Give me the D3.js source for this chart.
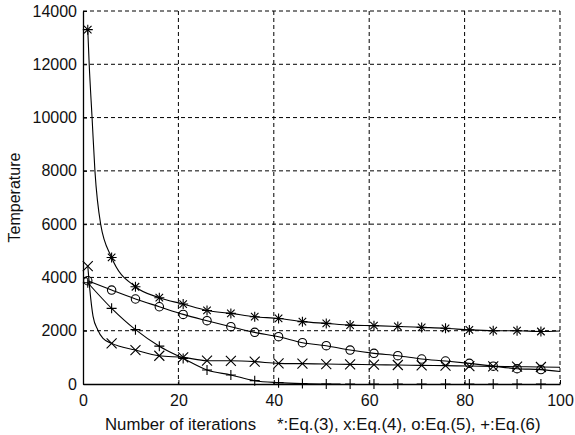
<!DOCTYPE html>
<meta charset="utf-8">
<script src="https://d3js.org/d3.v7.min.js"></script>
<style type="text/css">
body { margin: 0; background: #fff; }
svg { display: block; font-family: "Liberation Sans", Arial, sans-serif; }
.grid line { stroke: #000; stroke-width: 1px; stroke-dasharray: 4px 3px; }
.tickLabel { font-size: 16px; fill: #111; }
.axisLabel { font-size: 16px; fill: #111; }
.xLabel { font-size: 16.8px; fill: #111; }
.curve { fill: none; stroke: #000; stroke-width: 1.1px; }
.marker { fill: none; stroke: #000; stroke-width: 1.1px; }
</style>
<body></body>
<script>

// markers every 5 iterations
var markerIters = [1, 6, 11, 16, 21, 26, 31, 36, 41, 46, 51, 56, 61, 66, 71, 76, 81, 86, 91, 96];

var eq3Temps = [13300, 4750, 3650, 3240, 3000, 2760, 2650, 2525, 2460, 2340, 2275, 2210, 2190, 2160, 2125, 2090, 2030, 2000, 2000, 1970];
var eq4Temps = [4425, 1525, 1275, 1060, 1000, 875, 870, 838, 775, 763, 750, 738, 725, 713, 700, 688, 675, 663, 650, 638];
var eq5Temps = [3875, 3525, 3190, 2900, 2613, 2375, 2150, 1938, 1775, 1550, 1438, 1275, 1150, 1063, 938, 863, 775, 670, 575, 540];
var eq6Temps = [3800, 2840, 2040, 1420, 960, 525, 338, 125, 50, 15, 0, 0, 0, 0, 0, 0, 0, 0, 0, 0];

// extra points
var eq3Extra = [[1.3, 12000], [1.9, 10000], [2.5, 8000], [3.7, 6000], [100, 1990]];
var eq4Extra = [[1.4, 3600], [2.1, 2550], [3.1, 2030], [4.2, 1710], [100, 625]];
var eq5Extra = [[100, 470]];
var eq6Extra = [[54, 0]];

var xTicks = [0, 20, 40, 60, 80, 100];
var yTicks = [0, 2000, 4000, 6000, 8000, 10000, 12000, 14000];

var margin = {top: 11, right: 15, bottom: 51, left: 83};
var width = 575 - margin.left - margin.right,
    height = 435 - margin.top - margin.bottom;

var svg = d3.select("body").append("svg")
    .attr("width", 575)
    .attr("height", 435)
    .append("g")
    .attr("transform", "translate(" + margin.left + "," + margin.top + ")");

var xScale = d3.scaleLinear().domain([0, 100]).range([0, width]);
var yScale = d3.scaleLinear().domain([0, 14000]).range([height, 0]);

// dashed grid
var grid = svg.append("g").attr("class", "grid");
grid.selectAll(".hgrid")
    .data(yTicks.filter(function(d) { return d > 0; }))
    .enter().append("line")
    .attr("x1", 0).attr("x2", width)
    .attr("y1", function(d) { return yScale(d); })
    .attr("y2", function(d) { return yScale(d); });
grid.selectAll(".vgrid")
    .data(xTicks.filter(function(d) { return d > 0; }))
    .enter().append("line")
    .attr("y1", 0).attr("y2", height)
    .attr("x1", function(d) { return xScale(d); })
    .attr("x2", function(d) { return xScale(d); });

// axes
var fmt = d3.format("d");
var xAxis = d3.axisBottom(xScale).tickValues(xTicks).tickFormat(fmt).tickSizeInner(-4).tickSizeOuter(0).tickPadding(11);
var yAxis = d3.axisLeft(yScale).tickValues(yTicks).tickFormat(fmt).tickSizeInner(-4).tickSizeOuter(0).tickPadding(6);

var xAxisGroup = svg.append("g")
    .attr("transform", "translate(0," + height + ")")
    .call(xAxis);
var yAxisGroup = svg.append("g").call(yAxis);

[xAxisGroup, yAxisGroup].forEach(function(g) {
    g.select(".domain").attr("stroke", "#000").attr("stroke-width", 1.3);
    g.selectAll(".tick line").attr("stroke", "#000");
    g.selectAll(".tick text")
        .attr("class", "tickLabel")
        .attr("font-family", null)
        .attr("font-size", null);
});

// series
function buildSeries(temps, extra) {
    var pts = markerIters.map(function(it, i) { return {iter: it, temp: temps[i], marker: true}; });
    extra.forEach(function(e) { pts.push({iter: e[0], temp: e[1], marker: false}); });
    pts.sort(function(a, b) { return a.iter - b.iter; });
    return pts;
}

var series = [
    {name: "eq3", shape: "star", pts: buildSeries(eq3Temps, eq3Extra), last: 100},
    {name: "eq4", shape: "cross", pts: buildSeries(eq4Temps, eq4Extra), last: 100},
    {name: "eq5", shape: "circle", pts: buildSeries(eq5Temps, eq5Extra), last: 100},
    {name: "eq6", shape: "plus", pts: buildSeries(eq6Temps, eq6Extra), last: 54}
];

var line = d3.line()
    .x(function(d) { return xScale(d.iter); })
    .y(function(d) { return yScale(d.temp); })
    .curve(d3.curveMonotoneX);

series.forEach(function(s) {
    svg.append("path")
        .attr("class", "curve")
        .attr("d", line(s.pts.filter(function(d) { return d.iter <= s.last; })));

    var m = svg.selectAll(".m" + s.name)
        .data(s.pts.filter(function(d) { return d.marker; }))
        .enter().append("g")
        .attr("class", "marker")
        .attr("transform", function(d) { return "translate(" + xScale(d.iter) + "," + yScale(d.temp) + ")"; });

    var r = 5;
    if (s.shape == "circle") {
        m.append("circle").attr("r", 4.2);
    }
    if (s.shape == "plus" || s.shape == "star") {
        m.append("path").attr("d", "M" + (-r) + ",0H" + r + "M0," + (-r) + "V" + r);
    }
    if (s.shape == "cross" || s.shape == "star") {
        var c = s.shape == "star" ? r * 0.75 : r;
        m.append("path").attr("d", "M" + (-c) + "," + (-c) + "L" + c + "," + c + "M" + (-c) + "," + c + "L" + c + "," + (-c));
    }
});

// labels
svg.append("text")
    .attr("class", "axisLabel")
    .attr("transform", "translate(" + (-63) + "," + (height / 2) + ") rotate(-90)")
    .attr("text-anchor", "middle")
    .text("Temperature");

svg.append("text")
    .attr("class", "xLabel")
    .attr("x", 105 - margin.left)
    .attr("y", 430 - margin.top)
    .text("Number of iterations");

svg.append("text")
    .attr("class", "xLabel")
    .attr("x", 277 - margin.left)
    .attr("y", 430 - margin.top)
    .text("*:Eq.(3), x:Eq.(4), o:Eq.(5), +:Eq.(6)");

</script>
